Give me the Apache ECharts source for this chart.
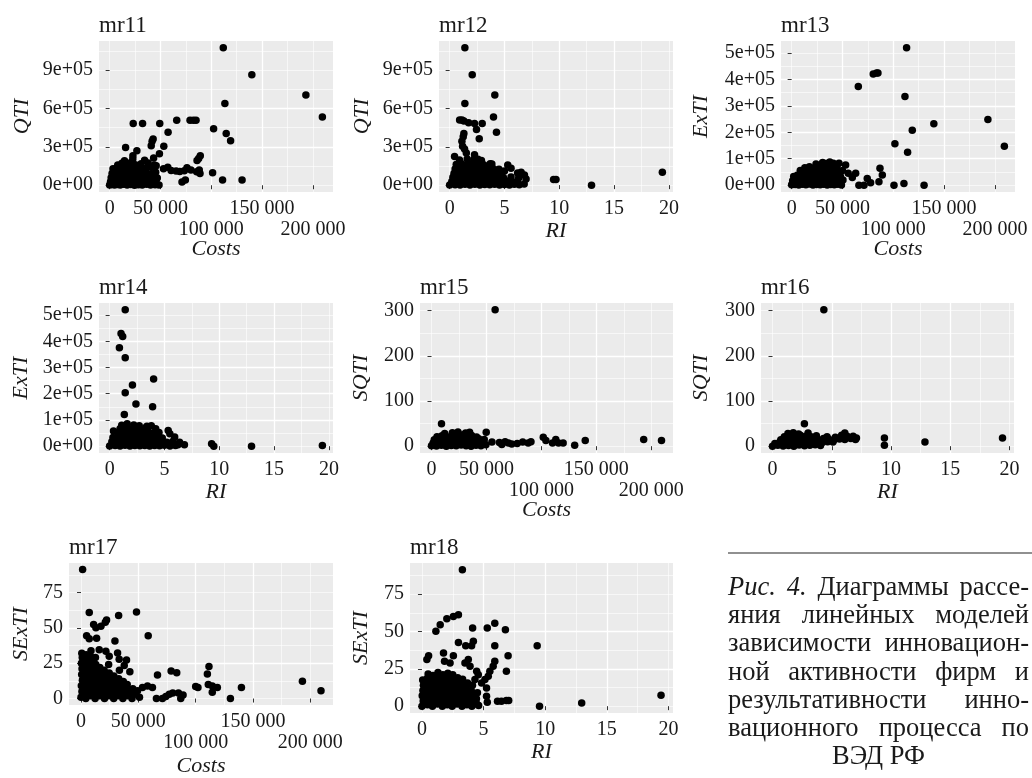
<!DOCTYPE html>
<html>
<head>
<meta charset="utf-8">
<script src="https://cdn.jsdelivr.net/npm/echarts@6/dist/echarts.min.js"></script>
<style>
html, body { margin: 0; padding: 0; background: #fff; }
#main { width: 1032px; height: 778px; }
</style>
</head>
<body>
<div id="main"></div>
<script>
/** data: [x, y] per panel */
var mr11Pts = [
  [111800,1074000],[139900,863000],[193100,705000],[209300,533000],[113400,639000],
  [102300,441000],[114700,404000],[119000,348000],[23200,483000],[32400,483000],
  [49300,483000],[66000,509000],[79100,509000],[82400,509000],[85000,509000],
  [57500,414000],[42800,362000],[41800,343000],[53300,304000],[40900,309000],
  [15700,296000],[26800,269000],[22900,230000],[49000,246000],[89200,230000],
  [87600,209000],[86000,193000],[101300,98000],[111100,40000],[130300,40000],
  [71200,26000],[74500,40000],[45800,153000],[57200,140000],[65400,111000],
  [73500,114000],[76100,137000],[80000,119000],[85600,106000],[88200,119000],
  [88900,92000],[35900,37000],[45800,40000],[40900,53000],[60500,115000],
  [69000,108000],[53000,128000],
  [0,1200],[2100,4800],[4800,900],[7600,6300],[10400,2100],[13900,7400],[17200,1500],
  [20800,5200],[24500,800],[28300,3900],[32100,2600],[36400,6800],[40200,1100],
  [44700,3300],[48600,2400],
  [900,28000],[3600,33500],[6800,24000],[9700,36000],[12800,29500],[16300,38000],
  [19600,26500],[23200,34000],[27100,31000],[31500,27000],[35200,37500],[39800,29000],
  [43600,34500],
  [1500,58000],[4300,66000],[7900,55000],[11200,63000],[14700,71000],[18100,57000],
  [21900,68000],[25800,61000],[29700,54000],[33900,66000],[38100,59000],[42500,64000],
  [46900,57000],
  [2400,92000],[5600,101000],[9100,88000],[12300,97000],[15800,105000],[19400,91000],
  [23000,99000],[27400,93000],[31600,104000],[36000,95000],[40700,89000],[45300,102000],
  [3300,128000],[6900,136000],[10600,124000],[14200,133000],[17900,141000],[21700,127000],
  [26000,136000],[30800,124000],[35700,131000],[41200,140000],
  [8000,158000],[12100,171000],[16400,163000],[20500,176000],[25300,160000],[31000,168000],
  [37900,173000],[44000,159000],
  [14600,192000],[22800,206000],[34400,196000],[43300,213000]
];
var mr12Pts = [
  [1.39,1074000],[2.06,863000],[4.12,705000],[4.0,533000],[1.39,639000],[4.27,414000],
  [2.45,436000],[2.97,483000],[2.27,483000],[0.91,509000],[1.12,509000],[1.3,502000],
  [1.73,488000],[2.7,362000],[1.3,404000],[1.24,378000],[1.12,343000],[1.18,304000],
  [1.36,282000],[1.52,251000],[0.45,224000],[2.27,238000],[2.58,203000],[3.85,166000],
  [5.3,158000],[5.6,132000],[6.52,100000],[6.82,79000],[6.97,48000],[9.48,45000],
  [9.7,45000],[12.94,0],[19.4,100000],[4.33,119000],[3.33,145000],[5.0,110000],[6.2,95000],
  [0,1000],[0.5,4000],[0.95,800],[1.4,6000],[1.85,2000],[2.3,7000],[2.75,1500],[3.2,5000],
  [3.65,2500],[4.1,6500],[4.55,1200],[5.0,4500],[5.45,2000],[5.9,7000],[6.35,3000],[6.8,9000],
  [0.2,28000],[0.65,34000],[1.1,25000],[1.55,37000],[2.0,29000],[2.45,35000],[2.9,26000],
  [3.35,33000],[3.8,30000],[4.25,38000],[4.7,27000],[5.2,32000],[5.7,25000],[6.2,35000],
  [0.3,61000],[0.75,55000],[1.2,67000],[1.65,58000],[2.1,64000],[2.55,56000],[3.0,69000],
  [3.45,60000],[3.9,54000],[4.4,66000],[4.9,59000],[5.6,63000],[6.3,57000],
  [0.4,92000],[0.85,99000],[1.3,88000],[1.75,103000],[2.2,94000],[2.65,97000],[3.1,90000],
  [3.6,101000],[4.1,93000],[4.7,88000],
  [0.5,126000],[0.95,134000],[1.4,129000],[1.85,138000],[2.3,124000],[2.8,132000],
  [3.3,127000],[3.9,135000],[4.5,124000],
  [0.6,162000],[1.05,170000],[1.5,158000],[2.0,167000],[2.5,174000],[3.1,160000],[3.7,168000],
  [0.9,196000],[1.6,205000],[2.2,199000],[2.9,192000]
];
var mr13Pts = [
  [113100,520000],[80300,421000],[83600,425000],[84900,425000],[65600,374000],
  [111500,336000],[193100,249000],[139900,233000],[118700,208000],[101600,157000],
  [114100,125000],[209300,147000],[100700,0],[110500,6400],[130300,0],[85900,12800],
  [86900,63800],[89200,38300],[74400,25500],[77700,8900],[71200,0],[66200,0],
  [63000,44600],[59700,29300],[53100,76500],[55700,44600],[46600,82900],[43300,63800],
  [0,1000],[3500,2500],[7000,500],[10500,3000],[14000,1500],[17500,4000],[21000,800],
  [24500,2500],[28000,1200],[31500,3500],[35000,600],[38500,2800],[42000,1500],
  [45500,3200],[49000,900],
  [1000,17000],[4500,20000],[8000,15000],[11500,19000],[15000,16500],[18500,21000],
  [22000,17500],[25500,14500],[29000,20500],[32500,16000],[36000,19500],[39500,15500],
  [43000,21000],[46500,17000],[50500,19000],
  [2000,33000],[5500,37000],[9000,31000],[12500,36000],[16000,34000],[19500,38000],
  [23000,32000],[26500,36500],[30000,33500],[33500,38500],[37000,31500],[40500,35500],
  [44000,37500],[48000,32500],
  [8500,55000],[12000,50000],[15500,54000],[19000,49000],[22500,56000],[26000,51000],
  [29500,53000],[33000,48000],[36500,55500],[40000,50500],[46000,52000],[50000,55000],
  [13000,66000],[17500,70000],[21500,64000],[25000,71000],[28500,67000],[32000,73000],
  [35500,65000],[39000,69000],[44500,71000],
  [24000,80000],[30500,86000],[34000,82000],[37500,88000],[41000,83000]
];
var mr14Pts = [
  [1.42,520000],[1.04,430000],[1.19,418000],[0.89,375000],[1.42,337000],[4.01,256000],
  [2.08,233000],[1.42,204000],[2.4,161000],[3.92,150000],[1.34,121000],[3.8,78000],
  [5.34,60000],[5.49,47500],[5.93,34700],[6.38,15400],[6.82,5100],[6.23,5100],
  [9.3,9000],[9.5,0],[12.94,0],[19.4,2600],
  [0,500],[0.5,2500],[0.95,1000],[1.4,3500],[1.85,800],[2.3,2800],[2.75,1200],[3.2,3000],
  [3.65,600],[4.1,2200],[4.55,1500],[5.0,3800],[5.5,1000],[6.0,2500],
  [0.2,17000],[0.65,20000],[1.1,15500],[1.55,19500],[2.0,16500],[2.45,21000],[2.9,15000],
  [3.35,18500],[3.8,20500],[4.25,16000],[4.7,19000],[5.2,15000],[5.75,18000],
  [0.3,33000],[0.75,37000],[1.2,31500],[1.65,36000],[2.1,34000],[2.55,38500],[3.0,32000],
  [3.45,36500],[3.9,33500],[4.35,37000],[4.8,31000],
  [0.35,58000],[0.85,50000],[1.3,55000],[1.75,49000],[2.2,53000],[2.65,56500],[3.1,50500],
  [3.55,54000],[4.0,49500],[4.5,52500],
  [0.95,66000],[1.4,71000],[1.85,65000],[2.3,69000],[2.8,64000],[3.3,70500],[4.2,66000],
  [1.1,80000],[1.6,86000],[2.2,81000],[2.7,78000],[3.4,76000]
];
var mr15Pts = [
  [57900,302],[9100,49.7],[49800,30.7],[101700,19.8],[104100,12.4],[113100,14.6],
  [115600,7.3],[110100,7.3],[119800,7.3],[130300,2.2],[139900,12.4],[193100,14.6],[209300,12.4],
  [55000,9],[61800,8],[67000,10],[73000,5],[78000,6],[83000,9],[88000,7],[90500,10],
  [64000,4],[70000,7],
  [0,1],[4500,0.5],[9000,2],[13500,0],[18000,1.5],[22500,0.8],[27000,2.5],[31500,1],
  [36000,0],[40500,2],[45000,1.2],[49500,3],
  [1500,7],[6000,9],[10500,6],[15000,8.5],[19500,7.5],[24000,10],[28500,6.5],[33000,9],
  [37500,7],[42000,10],[46500,8],
  [2500,14],[7000,16],[11500,13],[16000,17],[20500,14.5],[25000,16],[29500,13.5],
  [34000,17.5],[38500,14],[43000,16.5],[48000,15],
  [5000,21],[9500,23],[14000,20],[18500,24],[23000,22],[27500,25],[32000,21],[36500,23.5],
  [41000,20.5],
  [12000,28],[19000,30],[24100,31.5],[31000,29],[34700,31]
];
var mr16Pts = [
  [4.33,302],[2.69,49.7],[9.44,18.3],[9.44,2.2],[12.86,9.5],[19.4,18.3],
  [0,0],[0.45,2],[0.9,0.5],[1.35,1.5],[1.8,0],[2.25,2.5],[2.7,1],[3.15,2],[3.6,3],[4.05,1.5],
  [0.2,6],[0.6,8.5],[1.05,7],[1.5,9],[1.95,6.5],[2.4,8],[2.85,10],[3.3,7],[3.75,9.5],
  [4.2,8],[4.65,10],[5.1,9],
  [0.7,14],[1.15,16],[1.6,13.5],[2.05,17],[2.5,15],[2.95,13],[3.4,16.5],[3.85,14],
  [4.3,17],[4.75,15.5],[5.2,14],[5.65,16],[6.1,15],[6.6,17],[7.0,15],
  [1.0,21],[1.45,23],[1.9,20],[2.35,24],[2.8,22],[3.25,21],[3.7,23],[4.6,21],[5.3,20],
  [5.83,24],[6.3,22],[6.8,22],[7.08,18.3],
  [1.3,28],[1.75,30],[2.2,27],[3.0,29],[6.1,29]
];
var mr17Pts = [
  [1400,91.3],[7200,60.8],[48400,61.2],[32800,58.8],[22300,55.6],[21200,53.9],
  [17400,51.2],[13000,50.1],[11000,52.3],[4900,44.5],[7200,42.3],[13600,42.7],
  [29600,40.7],[58600,44.5],[8700,33.8],[15900,34.5],[21700,33.4],[31900,32.3],
  [39700,27.2],[42600,18.9],[66700,16.7],[78600,19.4],[83500,18.3],[111600,22.7],
  [110200,17.4],[111000,10],[114500,8.9],[118900,7.8],[114500,4.5],[102000,7.8],
  [100000,8.5],[130300,0],[139900,7.8],[193100,12.2],[209300,5.6],
  [62300,7.8],[65800,0],[71000,0],[74000,1.5],[77000,3],[80000,4],[85000,4],[87000,0],
  [89000,2.5],[49300,5.6],[53600,7.8],[58000,8.9],[47000,3],[51000,1],
  [24600,30],[33300,27.8],[37700,23.4],
  [0,1],[800,5],[300,9],[1200,13],[600,17],[900,21],[400,25],[1100,29],[700,32],
  [4200,0],[4700,4],[4400,8],[4900,12],[4100,16],[4600,20],[4300,24],[4800,28],[4500,31],
  [8300,2],[8800,6],[8500,10],[8100,14],[8700,18],[8400,22],[8900,26],[8200,30],
  [12300,0],[12800,4],[12500,8],[12100,12],[12700,16],[12400,20],[12900,24],[12600,29],
  [16300,2],[16800,6],[16500,10],[16100,14],[16700,18],[16400,22],
  [20500,0],[20800,4],[20300,8],[20900,12],[20600,16],[20200,20],
  [24500,2],[24800,6],[24300,10],[24900,14],[24600,18],[24100,24],
  [28500,0],[28800,4],[28300,8],[28900,12],[28600,16],
  [32500,2],[32800,6],[32300,10],[32900,14],[33500,20],
  [36500,0],[36800,4],[36300,8],[36900,12],
  [40500,2],[40800,6],[40300,10],
  [44500,0],[44800,4],[45200,7]
];
var mr18Pts = [
  [3.28,91.3],[1.13,50.1],[1.48,54.5],[2.02,58.5],[2.55,60.1],[2.96,61.2],[2.96,42.7],
  [3.55,40.5],[4.03,40.5],[4.17,43.4],[4.11,52.3],[5.3,52.3],[5.91,55.6],[6.77,51.2],
  [5.91,40.5],[9.35,40.5],[6.99,33.8],[6.85,23.4],[5.91,30],[5.78,26.7],[5.51,23.4],
  [5.38,20],[5.11,17.8],[4.84,15.6],[5.24,12.2],[5.24,6.7],[5.3,2.7],[6.13,3.3],
  [6.45,3.3],[6.85,3.8],[7.04,3.8],[9.54,0],[12.96,2.2],[19.4,7.3],[0.54,33.8],
  [0.4,31.2],[1.75,35.6],[2.55,33.8],[1.83,30],[2.28,28.9],[3.49,28.9],[3.76,31.2],
  [3.9,26.7],[4.44,23.4],[4.57,21.1],[4.3,17.8],
  [0,0],[0.1,3.5],[0.02,7],[0.08,10.5],[0.12,14],[0.06,17.5],
  [0.45,1],[0.42,4.5],[0.48,8],[0.4,11.5],[0.46,15],[0.43,18.5],[0.5,21.5],
  [0.85,0],[0.82,3.3],[0.88,6.8],[0.8,10.2],[0.86,13.7],[0.83,17],[0.9,20.5],
  [1.25,1.5],[1.22,5],[1.28,8.5],[1.2,12],[1.27,15.5],[1.23,19],[1.3,22.5],
  [1.65,0],[1.62,3.5],[1.68,7],[1.6,10.5],[1.66,14],[1.63,17.5],[1.7,21],
  [2.05,1],[2.02,4.5],[2.08,8],[2.0,11.5],[2.06,15],[2.03,18.5],[2.1,22],
  [2.45,0],[2.42,3.5],[2.48,7],[2.4,10.5],[2.46,14],[2.43,17.5],[2.5,21],
  [2.85,1.5],[2.82,5],[2.88,8.5],[2.8,12],[2.86,15.5],[2.9,19],
  [3.25,0],[3.22,3.5],[3.28,7],[3.2,10.5],[3.26,14],[3.3,18],
  [3.65,1],[3.62,4.5],[3.68,8],[3.6,11.5],[3.7,15.5],
  [4.05,0],[4.02,3.5],[4.08,7],[4.0,10.5],[4.1,14],
  [4.45,1.5],[4.42,5],[4.5,9],[4.6,0.5]
];

/** tick labels */
var costsTicks = [0, 50000, 100000, 150000, 200000];
var riTicks = [0, 5, 10, 15, 20];
var qtiTicks = [0, 300000, 600000, 900000];
var extiTicks = [0, 100000, 200000, 300000, 400000, 500000];
var sqtiTicks = [0, 100, 200, 300];
var sextiTicks = [0, 25, 50, 75];
// ggplot dodged these Costs labels onto a second row
var costsLowRow = [100000, 200000];

var captionLines = [
  'Рис. 4. Диаграммы рассе-',
  'яния линейных моделей',
  'зависимости инновацион-',
  'ной активности фирм и',
  'результативности инно-',
  'вационного процесса по',
  'ВЭД РФ'
];

/** layout */
var FONT = '"Liberation Serif", "Times New Roman", serif';
var TEXT_COLOR = '#1a1a1a';

var fmtCosts = function(v) { return String(v).replace(/\B(?=(\d{3})+(?!\d))/g, ' '); };
var fmtSci = function(v) {
    if (v === 0) return '0e+00';
    var e = Math.floor(Math.log10(Math.abs(v)));
    var m = Math.round(v / Math.pow(10, e));
    return m + 'e+' + (e < 10 ? '0' + e : e);
};
var fmtPlain = function(v) { return String(v); };

var axes = {
    costs: {name: 'Costs', ticks: costsTicks, low: costsLowRow, major: 50000, minor: 25000, fmt: fmtCosts},
    ri:    {name: 'RI', ticks: riTicks, low: [], major: 5, minor: 2.5, fmt: fmtPlain},
    qti:   {name: 'QTI', ticks: qtiTicks, low: [], major: 300000, minor: 150000, fmt: fmtSci},
    exti:  {name: 'ExTI', ticks: extiTicks, low: [], major: 100000, minor: 50000, fmt: fmtSci},
    sqti:  {name: 'SQTI', ticks: sqtiTicks, low: [], major: 100, minor: 50, fmt: fmtPlain},
    sexti: {name: 'SExTI', ticks: sextiTicks, low: [], major: 25, minor: 12.5, fmt: fmtPlain}
};

var panels = [
    {title: 'mr11', data: mr11Pts, x: 'costs', y: 'qti',   rect: [99, 41, 234, 151],  xGap: 46, yGap: 66},
    {title: 'mr12', data: mr12Pts, x: 'ri',    y: 'qti',   rect: [439, 41, 234, 151], xGap: 27, yGap: 66},
    {title: 'mr13', data: mr13Pts, x: 'costs', y: 'exti',  rect: [781, 41, 234, 151], xGap: 46, yGap: 69},
    {title: 'mr14', data: mr14Pts, x: 'ri',    y: 'exti',  rect: [99, 303, 234, 150], xGap: 27, yGap: 67},
    {title: 'mr15', data: mr15Pts, x: 'costs', y: 'sqti',  rect: [420, 303, 253, 150], xGap: 46, yGap: 48},
    {title: 'mr16', data: mr16Pts, x: 'ri',    y: 'sqti',  rect: [761, 303, 253, 150], xGap: 27, yGap: 49},
    {title: 'mr17', data: mr17Pts, x: 'costs', y: 'sexti', rect: [69, 563, 264, 150],  xGap: 50, yGap: 37},
    {title: 'mr18', data: mr18Pts, x: 'ri',    y: 'sexti', rect: [410, 563, 263, 150], xGap: 27, yGap: 38}
];

/** ggplot-like 5% expansion of the data range */
var limits = function(pts, k) {
    var lo = Infinity, hi = -Infinity;
    for (var i = 0; i < pts.length; i++) {
        lo = Math.min(lo, pts[i][k]);
        hi = Math.max(hi, pts[i][k]);
    }
    var pad = (hi - lo) * 0.05;
    return [lo - pad, hi + pad];
};

var labelStyle = function(values, fmt, margin) {
    return {
        show: values.length > 0, customValues: values, formatter: fmt, margin: margin,
        showMinLabel: true, showMaxLabel: true, hideOverlap: false,
        fontFamily: FONT, fontSize: 20, color: TEXT_COLOR
    };
};

/** main axis: ticks, labels, major grid and title */
var majorAxis = function(gi, spec, lim, isX, gap) {
    var row = spec.ticks.filter(function(v) { return spec.low.indexOf(v) < 0; });
    return {
        gridIndex: gi, type: 'value', min: lim[0], max: lim[1],
        position: isX ? 'bottom' : 'left',
        minInterval: spec.major, maxInterval: spec.major,
        axisLine: {show: false},
        axisTick: {show: true, length: 4, customValues: spec.ticks, lineStyle: {color: '#333', width: 1}},
        axisLabel: labelStyle(row, spec.fmt, isX ? 7 : 6),
        splitLine: {show: true, showMinLine: false, showMaxLine: false, lineStyle: {color: '#fff', width: 1.3}},
        name: spec.name, nameLocation: 'middle', nameGap: gap,
        nameTextStyle: {fontFamily: FONT, fontStyle: 'italic', fontSize: 22, color: TEXT_COLOR}
    };
};
/** second axis: minor grid, plus the dodged label row */
var minorAxis = function(gi, spec, lim, isX) {
    return {
        gridIndex: gi, type: 'value', min: lim[0], max: lim[1],
        position: isX ? 'bottom' : 'left',
        minInterval: spec.minor, maxInterval: spec.minor,
        axisLine: {show: false}, axisTick: {show: false},
        axisLabel: labelStyle(spec.low, spec.fmt, 28),
        splitLine: {show: true, showMinLine: false, showMaxLine: false, lineStyle: {color: '#fff', width: 0.6}}
    };
};

var option = {
    animation: false,
    backgroundColor: '#fff',
    title: [], grid: [], xAxis: [], yAxis: [], series: [], graphic: []
};

for (var i = 0; i < panels.length; i++) {
    var p = panels[i];
    var xl = limits(p.data, 0), yl = limits(p.data, 1);
    option.grid.push({
        left: p.rect[0], top: p.rect[1], width: p.rect[2], height: p.rect[3],
        show: true, backgroundColor: '#EBEBEB', borderWidth: 0
    });
    option.title.push({
        text: p.title, left: p.rect[0], top: p.rect[1] - 27, padding: 0,
        textStyle: {fontFamily: FONT, fontWeight: 'normal', fontSize: 23, color: TEXT_COLOR}
    });
    option.xAxis.push(majorAxis(i, axes[p.x], xl, true, p.xGap));
    option.xAxis.push(minorAxis(i, axes[p.x], xl, true));
    option.yAxis.push(majorAxis(i, axes[p.y], yl, false, p.yGap));
    option.yAxis.push(minorAxis(i, axes[p.y], yl, false));
    option.series.push({
        type: 'scatter', xAxisIndex: 2 * i, yAxisIndex: 2 * i,
        data: p.data, symbolSize: 7.5, silent: true,
        itemStyle: {color: '#000', opacity: 1}
    });
}

/** caption, justified like the printed page */
var cap = {left: 728, right: 1029, top: 588, step: 28.2, size: 26.5};
var measure = document.createElement('canvas').getContext('2d');
var textWidth = function(s, font) { measure.font = font; return measure.measureText(s).width; };
option.graphic.push({
    type: 'line', silent: true,
    shape: {x1: cap.left, y1: 553, x2: 1032, y2: 553},
    style: {stroke: '#222', lineWidth: 1.2}
});
for (var li = 0; li < captionLines.length; li++) {
    var words = captionLines[li].split(' ');
    var cy = cap.top + li * cap.step;
    var fonts = [], widths = [], total = 0;
    for (var w = 0; w < words.length; w++) {
        var italic = li === 0 && w < 2;
        fonts[w] = (italic ? 'italic ' : '') + cap.size + 'px ' + FONT;
        widths[w] = textWidth(words[w], fonts[w]);
        total += widths[w];
    }
    var last = li === captionLines.length - 1;
    var gap = last ? textWidth(' ', fonts[0]) : (cap.right - cap.left - total) / (words.length - 1);
    var x = last ? (cap.left + cap.right - total - gap * (words.length - 1)) / 2 : cap.left;
    for (w = 0; w < words.length; w++) {
        option.graphic.push({
            type: 'text', silent: true, x: x, y: cy,
            style: {text: words[w], font: fonts[w], fill: TEXT_COLOR, verticalAlign: 'middle', textVerticalAlign: 'middle'}
        });
        x += widths[w] + gap;
    }
}

var myChart = echarts.init(document.getElementById('main'));
myChart.setOption(option);
</script>
</body>
</html>
